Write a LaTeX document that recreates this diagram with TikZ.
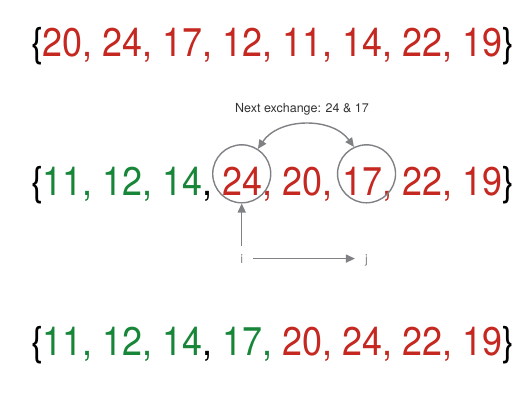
\documentclass[tikz,border=0pt]{standalone}
\usepackage{fontspec}
\setmainfont{TeX Gyre Heros}
\newfontfamily\seqfont[FakeStretch=0.898]{TeX Gyre Heros}
\usetikzlibrary{positioning}
\usetikzlibrary{arrows.meta}

\definecolor{numred}{RGB}{196,40,32}
\definecolor{numgreen}{RGB}{24,134,56}
\definecolor{ptrgray}{RGB}{128,129,133}
\definecolor{notegray}{RGB}{50,50,50}

\begin{document}
\begin{tikzpicture}[x=1pt,y=1pt,
	num/.style={inner sep=0pt, outer sep=0pt, font=\seqfont\fontsize{40}{44}\selectfont},
	ring/.style={draw=ptrgray, line width=1.4pt, circle, minimum size=58pt, inner sep=0pt},
	ptr/.style={draw=ptrgray, line width=1.4pt, >={Triangle[length=9pt,width=8pt]}},
	lbl/.style={font=\fontsize{12.5}{14}\selectfont}]

	\useasboundingbox (0,0) rectangle (532,402);

	% starting sequence
	\node[num, anchor=base west] (row1) at (31,345) {\{\textcolor{numred}{20, 24, 17, 12, 11, 14, 22, 19}\}};

	% sequence during the pass
	\node[num, anchor=base west] (lb2) at (31,207) {\{};
	\node[num, base right=0pt of lb2, text=numgreen] (grn2) {11, 12, 14};
	\node[num, base right=0pt of grn2] (cm2) {,};
	\node[num, base right=0pt of cm2, text=numred] (n24) {\ 24};
	\node[num, base right=0pt of n24, text=numred] (mid2) {, 20,};
	\node[num, base right=0pt of mid2, text=numred] (n17) {\ 17,};
	\node[num, base right=0pt of n17, text=numred] (rest2) {\ 22, 19};
	\node[num, base right=0pt of rest2] (rb2) {\}};

	% marked pair
	\node[ring] (c24) at ([xshift=4pt,yshift=7pt]n24.center) {};
	\node[ring] (c17) at ([xshift=4pt]n17.center |- c24.center) {};
	\draw[ptr,<->] (c24.57) to[bend left=55] (c17.115);
	\node[lbl, text=notegray, anchor=base] (note) at (302,289) {Next exchange: 24 \& 17};

	% indices
	\node[lbl, text=ptrgray, inner xsep=10pt, inner ysep=8pt, anchor=base] (i) at (c24.center |- 0,139) {i};
	\node[lbl, text=ptrgray, inner xsep=10pt, inner ysep=8pt, anchor=base] (j) at (c17.center |- i.base) {j};
	\draw[ptr,->] (i.north) -- (c24.south);
	\draw[ptr,->] (i.east) -- (j.west |- i.east);

	% sequence after the pass
	\node[num, anchor=base west] (row3) at (31,47) {\{\textcolor{numgreen}{11, 12, 14}, \textcolor{numgreen}{17,} \textcolor{numred}{20, 24, 22, 19}\}};

\end{tikzpicture}
\end{document}
